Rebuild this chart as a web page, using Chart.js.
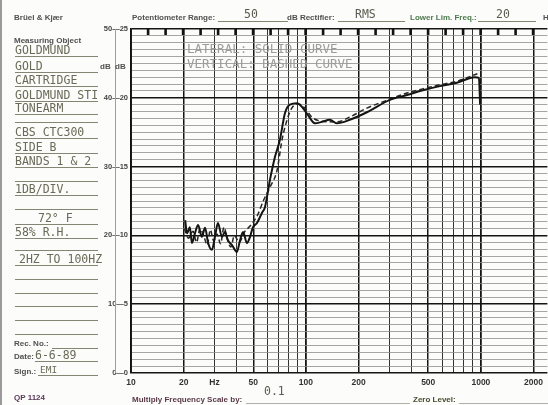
<!DOCTYPE html>
<html><head><meta charset="utf-8">
<script src="https://cdn.jsdelivr.net/npm/chart.js@4.4.1/dist/chart.umd.min.js"></script>
<style>
html,body{margin:0;padding:0;background:#fcfcfa;}
#wrap{position:relative;width:548px;height:405px;overflow:hidden;background:#fcfcfa;}
canvas{position:absolute;left:0;top:0;}
.t{position:absolute;white-space:nowrap;line-height:1;}
.lbl{font-family:"Liberation Sans",Arial,sans-serif;font-weight:bold;font-size:8px;color:#505050;}
.hw{font-family:"DejaVu Sans Mono",monospace;font-size:11.5px;color:#6a6a58;}
.note{font-family:"DejaVu Sans Mono",monospace;font-size:12.5px;color:#9c9c9c;}
.ul{position:absolute;height:0;border-top:1px solid #858574;}
</style></head>
<body>
<div id="wrap">
<canvas id="c" width="548" height="405"></canvas>
<div style="position:absolute;left:0;top:0;width:2px;height:405px;background:#9a9a9a"></div>

<div class="t lbl" style="left:14px;top:14px">Brüel &amp; Kjær</div>
<div class="t lbl" style="left:132px;top:14px">Potentiometer Range:</div>
<div class="t hw" style="left:244px;top:9px;color:#5a5a50">50</div>
<div class="ul" style="left:218px;top:21px;width:70px"></div>
<div class="t lbl" style="left:287px;top:14px">dB Rectifier:</div>
<div class="t hw" style="left:355px;top:9px;color:#5a5a50">RMS</div>
<div class="ul" style="left:338px;top:21px;width:67px"></div>
<div class="t lbl" style="left:410px;top:14px;color:#4d7a4d">Lower Lim. Freq.:</div>
<div class="t hw" style="left:496px;top:9px;color:#5a5a50">20</div>
<div class="ul" style="left:478px;top:21px;width:58px"></div>
<div class="t lbl" style="left:543px;top:14px">Hz</div>

<div class="t note" style="left:187px;top:43px">LATERAL:  SOLID CURVE</div>
<div class="t note" style="left:187px;top:58px">VERTICAL: DASHED CURVE</div>

<div class="t lbl" style="left:14px;top:37px">Measuring Object</div>
<div class="t hw" style="left:15px;top:45px">GOLDMUND</div><div class="ul" style="left:15px;top:56px;width:83px"></div>
<div class="t hw" style="left:15px;top:61px">GOLD</div><div class="ul" style="left:15px;top:72px;width:83px"></div>
<div class="t lbl" style="left:100px;top:63px">dB&nbsp;&nbsp;dB</div>
<div class="t hw" style="left:15px;top:75px">CARTRIDGE</div><div class="ul" style="left:15px;top:86px;width:83px"></div>
<div class="t hw" style="left:15px;top:90px">GOLDMUND STI</div><div class="ul" style="left:15px;top:101px;width:83px"></div>
<div class="t hw" style="left:15px;top:103px">TONEARM</div><div class="ul" style="left:15px;top:114px;width:83px"></div>
<div class="ul" style="left:15px;top:122px;width:83px"></div>
<div class="t hw" style="left:15px;top:127px">CBS CTC300</div><div class="ul" style="left:15px;top:138px;width:83px"></div>
<div class="t hw" style="left:15px;top:142px">SIDE B</div><div class="ul" style="left:15px;top:153px;width:83px"></div>
<div class="t hw" style="left:15px;top:156px">BANDS 1 &amp; 2</div><div class="ul" style="left:15px;top:167px;width:83px"></div>
<div class="ul" style="left:15px;top:181px;width:83px"></div>
<div class="t hw" style="left:15px;top:184px">1DB/DIV.</div><div class="ul" style="left:15px;top:195px;width:83px"></div>
<div class="ul" style="left:15px;top:209px;width:83px"></div>
<div class="t hw" style="left:38px;top:213px">72° F</div><div class="ul" style="left:15px;top:224px;width:83px"></div>
<div class="t hw" style="left:15px;top:227px">58% R.H.</div><div class="ul" style="left:15px;top:238px;width:83px"></div>
<div class="ul" style="left:15px;top:250px;width:83px"></div>
<div class="t hw" style="left:19px;top:254px">2HZ TO 100HZ</div><div class="ul" style="left:15px;top:265px;width:83px"></div>
<div class="ul" style="left:15px;top:279px;width:83px"></div>
<div class="ul" style="left:15px;top:293px;width:83px"></div>
<div class="ul" style="left:15px;top:306px;width:83px"></div>
<div class="ul" style="left:15px;top:320px;width:83px"></div>
<div class="ul" style="left:15px;top:334px;width:83px"></div>
<div class="t lbl" style="left:14px;top:340px">Rec. No.:</div><div class="ul" style="left:52px;top:348px;width:46px"></div>
<div class="t lbl" style="left:14px;top:353px">Date:</div>
<div class="t hw" style="left:35px;top:350px">6-6-89</div><div class="ul" style="left:35px;top:361px;width:63px"></div>
<div class="t lbl" style="left:14px;top:368px">Sign.:</div>
<div class="t hw" style="left:40px;top:365px;font-size:9.5px">EMI</div><div class="ul" style="left:38px;top:375px;width:60px"></div>

<div class="t lbl" style="left:14px;top:394px;color:#5a3a5a">QP 1124</div>
<div class="t lbl" style="left:132px;top:396px;color:#5a3a4a">Multiply Frequency Scale by:</div>
<div class="t hw" style="left:264px;top:386px;color:#5a5a50">0.1</div>
<div class="ul" style="left:246px;top:403px;width:164px;border-color:#b0b0a8"></div>
<div class="t lbl" style="left:413px;top:396px;color:#4a4a30">Zero Level:</div>
<div class="ul" style="left:459px;top:403px;width:89px;border-color:#b0b0a8"></div>
</div>

<script>
// Lateral (solid) curve
const freqSolid = [20.4,20.9,21.7,22.3,23.2,24.2,25.4,26.5,27.6,29.0,30.2,31.4,33.1,34.4,35.8,37.8,40.3,42.0,43.7,46.0,47.9,49.8,52.5,56.1,58.3,62.3,66.5,71.0,75.9,81.0,88.9,94.8,102.6,112.5,123.3,137,150,178,223,302,378,466,583,729,924,975,990];
const dbSolid   = [22.2,20.3,21.2,18.9,20.3,21.5,19.8,21.1,18.9,17.9,19.8,21.8,19.8,20.5,19.3,18.6,17.6,19.3,20.5,18.9,19.8,21.2,21.8,23.3,24.1,28.1,31.4,33.9,37.8,39.0,39.2,38.7,37.5,36.3,36.5,36.8,36.3,36.8,37.9,39.7,40.4,41.1,41.7,42.2,43.0,42.9,39.0];
// Vertical (dashed) curve
const freqDashed = [20.2,21.3,22.6,23.7,24.8,26.0,27.3,28.4,29.7,31.0,32.5,34.0,35.5,37.2,39.0,41.5,44.5,48.5,53.0,57.0,62.3,68.4,73,78,83,90,98.5,108,123,150,178,223,302,378,466,583,729,955];
const dbDashed   = [21.0,19.6,20.6,19.0,21.0,20.0,18.6,20.8,19.2,20.2,18.8,21.2,19.5,18.3,20.0,19.0,20.5,21.5,23.0,25.0,27.0,29.5,33.9,36.8,38.5,39.1,38.5,37.2,36.6,36.5,37.2,38.5,39.8,40.7,41.3,41.9,42.4,43.5];

const yLabelOuter = [0,10,20,30,40,50];
const yLabelInner = ['0','5','10','15','20','25'];
const xTickValues = [10,20,30,40,50,60,70,80,90,100,200,300,400,500,600,700,800,900,1000,2000];
const xLabelValues = [10,20,30,50,100,200,500,1000,2000];
const xLabelTexts  = ['10','20','Hz','50','100','200','500','1000','2000'];

const paperPlugin = {
  id:'paper',
  beforeDatasetsDraw(chart){
    const {ctx, chartArea:a} = chart;
    ctx.save();
    ctx.strokeStyle='#a0a098'; ctx.lineWidth=1;
    ctx.beginPath(); ctx.moveTo(a.left-15.5, a.top); ctx.lineTo(a.left-15.5, a.bottom); ctx.stroke();
    ctx.fillStyle='#111';
    for(let px=a.left+17; px<a.right-8; px+=17.5){ ctx.fillRect(px-1.2, a.top, 2.6, 6); }
    ctx.restore();
  }
};

function signif(v){ return v/Math.pow(10,Math.floor(Math.log10(v)+1e-9)); }
function isMajorX(v){ const m=signif(v); return Math.abs(m-1)<1e-6||Math.abs(m-2)<1e-6||Math.abs(m-5)<1e-6; }

new Chart(document.getElementById('c'), {
  type:'line',
  data:{datasets:[
    {label:'Lateral', data:freqSolid.map((f,i)=>({x:f,y:dbSolid[i]})), borderColor:'#141414', borderWidth:2, pointRadius:0, cubicInterpolationMode:'monotone', fill:false},
    {label:'Vertical', data:freqDashed.map((f,i)=>({x:f,y:dbDashed[i]})), borderColor:'#262626', borderWidth:1.5, borderDash:[5,3], pointRadius:0, cubicInterpolationMode:'monotone', fill:false}
  ]},
  options:{
    responsive:false, animation:false, devicePixelRatio:1,
    layout:{padding:{left:100, top:29, right:0, bottom:0}},
    plugins:{legend:{display:false}, tooltip:{enabled:false}, title:{display:false}},
    scales:{
      x:{type:'logarithmic', min:10, max:2400,
        afterBuildTicks:(s)=>{ s.ticks = xTickValues.map(v=>({value:v})); },
        afterFit:(s)=>{ s.height = 32; },
        ticks:{autoSkip:false, maxRotation:0, minRotation:0, padding:5, color:'#333',
          font:{family:'Liberation Sans', weight:'bold', size:8.5},
          callback:(v)=>{ const i = xLabelValues.indexOf(v); return i>=0 ? xLabelTexts[i] : ''; }},
        grid:{drawTicks:false,
          color:(c)=>{ const v=c.tick&&c.tick.value; return isMajorX(v)?'#151515':'#333'; },
          lineWidth:(c)=>{ const v=c.tick&&c.tick.value; const m=signif(v); return Math.abs(m-1)<1e-6?1.8:(isMajorX(v)?1.5:1); }},
        border:{display:false}},
      y:{min:0, max:50,
        afterFit:(s)=>{ s.width = 31; },
        ticks:{stepSize:1, autoSkip:false, padding:3, color:'#444',
          font:{family:'Liberation Sans', weight:'bold', size:7.5},
          callback:(v)=>{ const i = yLabelOuter.indexOf(v); return i>=0 ? v+'—'+yLabelInner[i] : ''; }},
        grid:{drawTicks:false,
          color:(c)=>{ const v=c.tick&&c.tick.value; return (v%10===0)?'#151515':'#8e8e8e'; },
          lineWidth:(c)=>{ const v=c.tick&&c.tick.value; return (v%10===0)?1.6:0.8; }},
        border:{color:'#111', width:1.8}}
    }
  },
  plugins:[paperPlugin]
});
</script>
</body></html>
